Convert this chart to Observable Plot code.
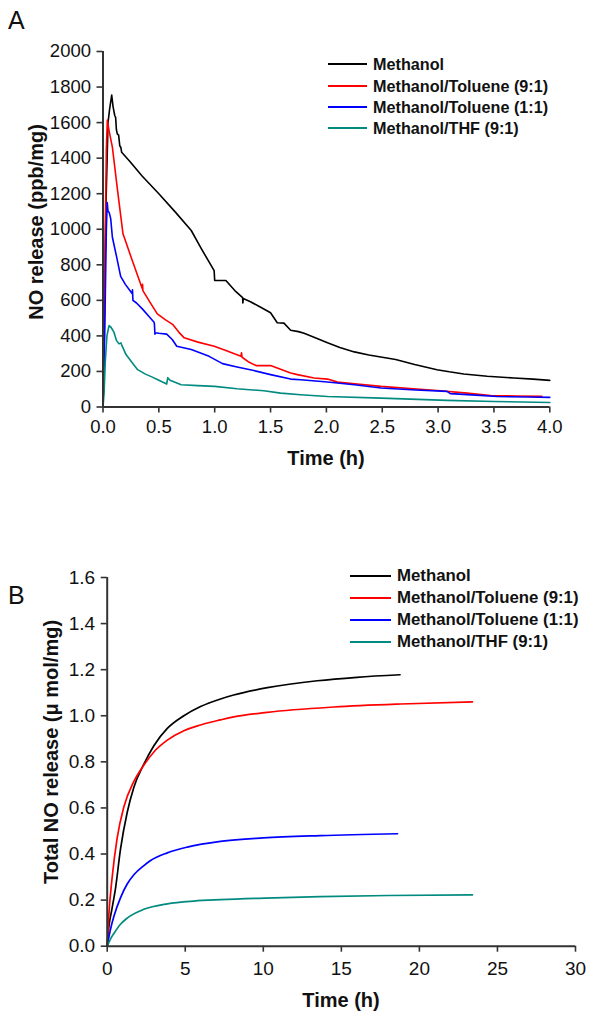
<!DOCTYPE html>
<html><head><meta charset="utf-8">
<script src="https://cdn.jsdelivr.net/npm/d3@7"></script>
<script src="https://cdn.jsdelivr.net/npm/@observablehq/plot@0.6"></script>
<style>
body{margin:0;background:#fff;font-family:"Liberation Sans",Arial,sans-serif;color:#111;}
#wrap{position:relative;width:594px;height:1021px;overflow:hidden;background:#fff;}
.abs{position:absolute;white-space:nowrap;}
.panel{position:absolute;left:0;}
.ttl{font-weight:bold;font-size:20px;line-height:1;}
.rot{transform:translate(-50%,-50%) rotate(-90deg);}
.ctr{transform:translate(-50%,-50%);}
.leg{font-weight:bold;line-height:1;}
.sw{position:absolute;height:2px;}
</style></head><body><div id="wrap"></div>
<script>
// ---------- Series names and colours ----------
const seriesNames = ["Methanol", "Methanol/Toluene (9:1)", "Methanol/Toluene (1:1)", "Methanol/THF (9:1)"];
const seriesColors = ["#000000", "#ff0000", "#0000ff", "#008a80"];

// ---------- Panel A: NO release (ppb/mg) vs time (h) ----------
const aMethanolT = [0, 0.01, 0.025, 0.045, 0.06, 0.078, 0.09, 0.105, 0.113, 0.12, 0.128, 0.14, 0.15, 0.16, 0.167, 0.233, 0.35, 0.5, 0.65, 0.79, 0.88, 0.995, 1.0, 1.1, 1.18, 1.25, 1.252, 1.256, 1.32, 1.42, 1.5, 1.56, 1.62, 1.68, 1.75, 1.8, 1.9, 2.01, 2.12, 2.25, 2.38, 2.5, 2.62, 2.79, 2.99, 3.1, 3.23, 3.44, 3.68, 3.85, 4.0];
const aMethanolV = [0, 350, 1100, 1600, 1680, 1755, 1690, 1640, 1630, 1560, 1537, 1530, 1470, 1460, 1433, 1387, 1300, 1200, 1095, 993, 891, 767, 712, 712, 655, 615, 585, 610, 592, 558, 530, 474, 472, 432, 424, 415, 390, 361, 335, 310, 293, 280, 267, 239, 210, 198, 186, 173, 163, 157, 150];

const aTol91T = [0, 0.015, 0.03, 0.039, 0.045, 0.054, 0.084, 0.13, 0.179, 0.19, 0.262, 0.352, 0.354, 0.357, 0.42, 0.486, 0.56, 0.623, 0.68, 0.727, 0.85, 0.996, 1.1, 1.235, 1.24, 1.245, 1.3, 1.37, 1.5, 1.59, 1.68, 1.74, 1.89, 2.01, 2.1, 2.3, 2.49, 2.75, 3.02, 3.26, 3.47, 3.7, 3.93];
const aTol91V = [0, 700, 1450, 1615, 1590, 1555, 1462, 1220, 974, 955, 824, 665, 690, 655, 590, 524, 490, 465, 420, 389, 365, 342, 318, 286, 305, 280, 255, 233, 233, 212, 191, 182, 163, 157, 140, 128, 116, 104, 91, 78, 65, 62, 60];

const aTol11T = [0, 0.015, 0.03, 0.038, 0.045, 0.055, 0.069, 0.084, 0.12, 0.158, 0.2, 0.262, 0.264, 0.268, 0.3, 0.352, 0.41, 0.457, 0.46, 0.465, 0.47, 0.5, 0.57, 0.62, 0.66, 0.79, 0.95, 1.07, 1.2, 1.35, 1.5, 1.68, 1.77, 2.01, 2.25, 2.49, 2.8, 3.08, 3.11, 3.3, 3.53, 3.8, 4.0];
const aTol11V = [0, 400, 1000, 1150, 1100, 1095, 1060, 955, 850, 735, 690, 637, 660, 600, 585, 552, 510, 477, 470, 410, 418, 415, 410, 380, 342, 323, 285, 244, 225, 205, 182, 157, 153, 141, 125, 107, 96, 88, 75, 68, 59, 56, 54];

const aThfT = [0, 0.01, 0.02, 0.035, 0.054, 0.07, 0.098, 0.12, 0.143, 0.16, 0.17, 0.206, 0.26, 0.31, 0.38, 0.442, 0.5, 0.57, 0.58, 0.6, 0.7, 0.85, 1.0, 1.2, 1.44, 1.59, 1.77, 2.01, 2.49, 3.08, 3.5, 4.0];
const aThfV = [0, 80, 250, 400, 458, 450, 421, 375, 355, 361, 345, 295, 250, 210, 185, 168, 150, 129, 165, 150, 125, 120, 116, 103, 91, 78, 69, 59, 50, 37, 31, 25];

const aXTicks = [0, 0.5, 1, 1.5, 2, 2.5, 3, 3.5, 4];
const aYTicks = [0, 200, 400, 600, 800, 1000, 1200, 1400, 1600, 1800, 2000];

// ---------- Panel B: Total NO release (μ mol/mg) vs time (h) ----------
const bMethanolT = [0, 0.1, 0.3, 0.53, 0.85, 1.28, 1.71, 2.35, 2.99, 3.85, 4.91, 5.98, 7.26, 8.1, 10.26, 13.46, 16, 18.76];
const bMethanolV = [0, 0.08, 0.16, 0.25, 0.42, 0.58, 0.69, 0.79, 0.87, 0.945, 1.0, 1.04, 1.073, 1.09, 1.122, 1.152, 1.167, 1.178];

const bTol91T = [0, 0.1, 0.32, 0.64, 1.07, 1.71, 2.35, 2.99, 3.85, 4.91, 5.98, 7.26, 8.1, 10.26, 14.53, 18.8, 23.4];
const bTol91V = [0, 0.13, 0.30, 0.47, 0.605, 0.715, 0.786, 0.843, 0.894, 0.935, 0.96, 0.982, 0.995, 1.015, 1.038, 1.051, 1.06];

const bTol11T = [0, 0.2, 0.43, 0.85, 1.28, 1.71, 2.35, 2.78, 3.85, 5.13, 7.26, 10, 13.65, 18.6];
const bTol11V = [0, 0.07, 0.13, 0.21, 0.27, 0.31, 0.35, 0.372, 0.405, 0.43, 0.455, 0.47, 0.48, 0.488];

const bThfT = [0, 0.2, 0.43, 0.85, 1.28, 2.35, 3.85, 5.56, 7.26, 10.1, 13.65, 18, 23.4];
const bThfV = [0, 0.03, 0.055, 0.095, 0.122, 0.16, 0.184, 0.196, 0.202, 0.209, 0.215, 0.22, 0.223];

const bXTicks = [0, 5, 10, 15, 20, 25, 30];
const bYTicks = [0, 0.2, 0.4, 0.6, 0.8, 1.0, 1.2, 1.4, 1.6];

// ---------- build tables ----------
function rows(name, ts, vs) { return ts.map((t, i) => ({series: name, t, v: vs[i]})); }
const rowsA = [
  ...rows(seriesNames[0], aMethanolT, aMethanolV),
  ...rows(seriesNames[1], aTol91T, aTol91V),
  ...rows(seriesNames[2], aTol11T, aTol11V),
  ...rows(seriesNames[3], aThfT, aThfV)
];
const rowsB = [
  ...rows(seriesNames[0], bMethanolT, bMethanolV),
  ...rows(seriesNames[1], bTol91T, bTol91V),
  ...rows(seriesNames[2], bTol11T, bTol11V),
  ...rows(seriesNames[3], bThfT, bThfV)
];

const axisColor = "#333";
const fontFam = "'Liberation Sans', Arial, sans-serif";
const wrap = document.getElementById("wrap");

function el(cls, html, css) {
  const d = document.createElement("div");
  d.className = "abs " + cls;
  d.innerHTML = html;
  Object.assign(d.style, css);
  wrap.appendChild(d);
  return d;
}

// Panel A
const plotA = Plot.plot({
  width: 594, height: 480,
  marginLeft: 102.5, marginRight: 44.7, marginTop: 51, marginBottom: 73.5,
  style: {fontFamily: fontFam, fontSize: "18px", color: "#111", background: "transparent", overflow: "visible"},
  x: {domain: [0, 4]},
  y: {domain: [0, 2000]},
  color: {domain: seriesNames, range: seriesColors},
  marks: [
    Plot.line(rowsA, {x: "t", y: "v", z: "series", stroke: "series", strokeWidth: 1.6}),
    Plot.axisX({ticks: aXTicks, tickFormat: d3.format(".1f"), tickSize: 6, tickPadding: 7, stroke: axisColor, strokeWidth: 1.6, fontSize: 18.5, label: null}),
    Plot.axisY({ticks: aYTicks, tickFormat: d3.format("d"), tickSize: 6, tickPadding: 6, stroke: axisColor, strokeWidth: 1.6, fontSize: 18.5, label: null}),
    Plot.ruleX([0], {stroke: axisColor, strokeWidth: 2}),
    Plot.ruleY([0], {stroke: axisColor, strokeWidth: 2})
  ]
});
plotA.classList.add("panel");
plotA.style.top = "0px";
wrap.appendChild(plotA);

// Panel B
const plotB = Plot.plot({
  width: 594, height: 501,
  marginLeft: 106.7, marginRight: 19, marginTop: 57, marginBottom: 75.3,
  style: {fontFamily: fontFam, fontSize: "19px", color: "#111", background: "transparent", overflow: "visible"},
  x: {domain: [0, 30]},
  y: {domain: [0, 1.6]},
  color: {domain: seriesNames, range: seriesColors},
  marks: [
    Plot.line(rowsB, {x: "t", y: "v", z: "series", stroke: "series", strokeWidth: 1.7, curve: "monotone-x"}),
    Plot.axisX({ticks: bXTicks, tickFormat: d3.format("d"), tickSize: 6, tickPadding: 9, stroke: axisColor, strokeWidth: 1.6, fontSize: 19, label: null}),
    Plot.axisY({ticks: bYTicks, tickFormat: d3.format(".1f"), tickSize: 6, tickPadding: 6, stroke: axisColor, strokeWidth: 1.6, fontSize: 19, label: null}),
    Plot.ruleX([0], {stroke: axisColor, strokeWidth: 2}),
    Plot.ruleY([0], {stroke: axisColor, strokeWidth: 2})
  ]
});
plotB.classList.add("panel");
plotB.style.top = "520px";
wrap.appendChild(plotB);

// Panel letters
el("", "A", {left: "8px", top: "8px", fontSize: "25px", lineHeight: "1"});
el("", "B", {left: "8px", top: "583px", fontSize: "25px", lineHeight: "1"});

// Axis titles
el("ttl ctr", "Time (h)", {left: "326px", top: "458px"});
el("ttl rot", "NO release (ppb/mg)", {left: "36px", top: "222px"});
el("ttl ctr", "Time (h)", {left: "341px", top: "1000px"});
el("ttl rot", "Total NO release (\u03bc mol/mg)", {left: "51px", top: "752px"});

// Legends
function legend(x0, x1, tx, ys, fs) {
  seriesNames.forEach((n, i) => {
    el("sw", "", {left: x0 + "px", width: (x1 - x0) + "px", top: (ys[i] - 1) + "px", background: seriesColors[i]});
    el("leg ctr", n, {left: tx + "px", top: ys[i] + "px", fontSize: fs + "px", transform: "translate(0,-50%)"});
  });
}
legend(328, 367, 373, [64, 86, 107, 128], 16.2);
legend(350, 391, 397, [576, 598, 620, 642], 16.8);
</script>
</body></html>
